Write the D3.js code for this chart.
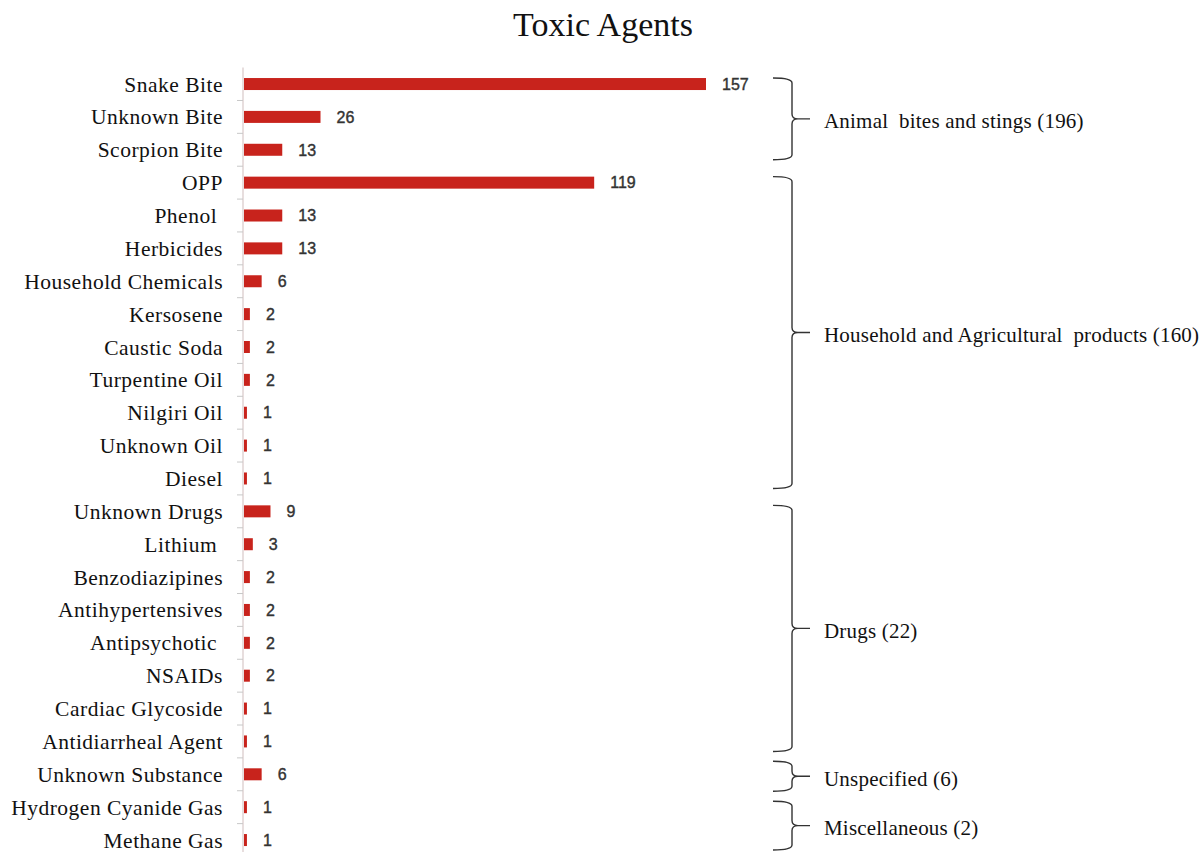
<!DOCTYPE html>
<html>
<head>
<meta charset="utf-8">
<script src="https://cdn.jsdelivr.net/npm/d3@7"></script>
<style>
  body { margin: 0; background: #fff; }
  svg text { white-space: pre; }
</style>
</head>
<body>
<div id="chart"></div>
<script>
// categories, top to bottom
const agents = ["Snake Bite", "Unknown Bite", "Scorpion Bite", "OPP", "Phenol ", "Herbicides",
  "Household Chemicals", "Kersosene", "Caustic Soda", "Turpentine Oil", "Nilgiri Oil", "Unknown Oil",
  "Diesel", "Unknown Drugs", "Lithium ", "Benzodiazipines", "Antihypertensives", "Antipsychotic ",
  "NSAIDs", "Cardiac Glycoside", "Antidiarrheal Agent", "Unknown Substance", "Hydrogen Cyanide Gas",
  "Methane Gas"];
const cases = [157, 26, 13, 119, 13, 13, 6, 2, 2, 2, 1, 1, 1, 9, 3, 2, 2, 2, 2, 1, 1, 6, 1, 1];

// groups shown with braces on the right
const groupNames = ["Animal  bites and stings (196)", "Household and Agricultural  products (160)",
  "Drugs (22)", "Unspecified (6)", "Miscellaneous (2)"];
const groupFirst = ["Snake Bite", "OPP", "Unknown Drugs", "Unknown Substance", "Hydrogen Cyanide Gas"];
const groupLast = ["Scorpion Bite", "Diesel", "Antidiarrheal Agent", "Unknown Substance", "Methane Gas"];

const width = 1201, height = 852;
const serif = "'Liberation Serif', 'Times New Roman', serif";

const svg = d3.select("#chart").append("svg")
  .attr("width", width).attr("height", height);

svg.append("text")
  .attr("x", 603).attr("y", 36)
  .attr("text-anchor", "middle")
  .style("font-family", serif)
  .style("font-size", "34px")
  .attr("fill", "#111")
  .text("Toxic Agents");

const x = d3.scaleLinear().domain([0, 157]).range([244, 706]);
const y = d3.scaleBand().domain(agents).range([67.6, 67.6 + 24 * 32.87]).paddingInner(0);
const mid = d => y(d) + y.bandwidth() / 2;

// axis line + ticks at band boundaries
const axis = svg.append("g").attr("transform", "translate(243,0)")
  .call(d3.axisLeft(y).tickSize(0).tickFormat(""));
axis.select(".domain").attr("stroke", "#d8c8c8").attr("stroke-width", 1.2)
  .attr("d", "M0," + y.range()[0] + "V" + height);

svg.append("g").selectAll("line")
  .data(agents.slice(1))
  .join("line")
  .attr("x1", 237).attr("x2", 243)
  .attr("y1", d => y(d)).attr("y2", d => y(d))
  .attr("stroke", "#c8c8c8").attr("stroke-width", 1);

// category labels
svg.append("g").selectAll("text")
  .data(agents)
  .join("text")
  .attr("x", 223)
  .attr("y", mid)
  .attr("dy", "0.35em")
  .attr("text-anchor", "end")
  .style("font-family", serif)
  .style("font-size", "21.5px")
  .style("letter-spacing", "0.5px")
  .attr("fill", "#111")
  .text(d => d);

const barH = 12;
svg.append("g").selectAll("rect")
  .data(agents)
  .join("rect")
  .attr("x", x(0))
  .attr("y", d => mid(d) - barH / 2)
  .attr("width", (d, i) => x(cases[i]) - x(0))
  .attr("height", barH)
  .attr("fill", "#c8231c");

svg.append("g").selectAll("text")
  .data(agents)
  .join("text")
  .attr("x", (d, i) => x(cases[i]) + 16)
  .attr("y", mid)
  .attr("dy", "0.36em")
  .style("font-family", "'Liberation Sans', Arial, sans-serif")
  .style("font-size", "16px")
  .attr("stroke", "#333").attr("stroke-width", 0.4)
  .attr("fill", "#333")
  .text((d, i) => cases[i]);

// braces
function brace(top, bot) {
  const a = 773, b = 792, c = 810, r = 5;
  const m = (top + bot) / 2;
  return "M" + a + "," + top + " Q" + b + "," + top + " " + b + "," + (top + r) +
    " L" + b + "," + (m - r) + " Q" + b + "," + m + " " + (b + 6) + "," + m +
    " L" + c + "," + m + " M" + (b + 6) + "," + m + " Q" + b + "," + m + " " + b + "," + (m + r) +
    " L" + b + "," + (bot - r) + " Q" + b + "," + bot + " " + a + "," + bot;
}

const groups = groupNames.map((g, i) => {
  let top = mid(groupFirst[i]) - 6, bot = mid(groupLast[i]) + 10;
  if (bot - top < 30) { const m = (top + bot) / 2; top = m - 15; bot = m + 15; }
  return { name: g, top: top, bot: bot };
});

const gb = svg.append("g").selectAll("g").data(groups).join("g");
gb.append("path")
  .attr("d", d => brace(d.top, d.bot))
  .attr("fill", "none").attr("stroke", "#333").attr("stroke-width", 1.4);
gb.append("text")
  .attr("x", 824)
  .attr("y", d => (d.top + d.bot) / 2)
  .attr("dy", "0.45em")
  .style("font-family", serif)
  .style("font-size", "21px")
  .style("letter-spacing", "0.2px")
  .attr("fill", "#111")
  .text(d => d.name);
</script>
</body>
</html>
